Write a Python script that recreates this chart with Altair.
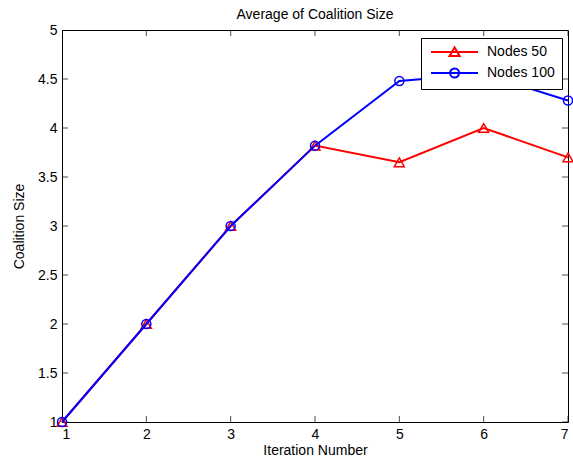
import altair as alt
import pandas as pd

iterations = [1, 2, 3, 4, 5, 6, 7]
nodes50 = [1.0, 2.0, 3.0, 3.82, 3.65, 4.0, 3.70]
nodes100 = [1.0, 2.0, 3.0, 3.82, 4.48, 4.55, 4.28]
series_names = ["Nodes 50", "Nodes 100"]
series_colors = ["#FF0000", "#0000FF"]
x_ticks = [1, 2, 3, 4, 5, 6, 7]
y_ticks = [1, 1.5, 2, 2.5, 3, 3.5, 4, 4.5, 5]

FONT = "Liberation Sans"
W, H = 506, 392

df50 = pd.DataFrame({"x": iterations, "y": nodes50, "series": series_names[0]})
df100 = pd.DataFrame({"x": iterations, "y": nodes100, "series": series_names[1]})
df_all = pd.concat([df50, df100], ignore_index=True)
dfx = pd.DataFrame({"t": x_ticks})
dfy = pd.DataFrame({"t": y_ticks})

xscale = alt.Scale(domain=[1, 7], nice=False, zero=False)
yscale = alt.Scale(domain=[1, 5], nice=False, zero=False)

axis_text = dict(labelFont=FONT, labelFontSize=14, labelColor="#000000",
                 titleFont=FONT, titleFontSize=14, titleFontWeight="normal", titleColor="#000000")
xaxis = alt.Axis(values=x_ticks, format="d", tickSize=0, domain=False, grid=False,
                 title="Iteration Number", labelPadding=5, titlePadding=2, **axis_text)
yaxis = alt.Axis(values=y_ticks, format="~g", tickSize=0, domain=False, grid=False,
                 title="Coalition Size", labelPadding=5, titlePadding=11, **axis_text)

X = alt.X("x:Q", scale=xscale, axis=xaxis)
Y = alt.Y("y:Q", scale=yscale, axis=yaxis)

red_line = alt.Chart(df50).mark_line(color=series_colors[0], strokeWidth=2).encode(x=X, y=Y)
red_pts = alt.Chart(df50).mark_point(shape="triangle-up", filled=False, color=series_colors[0],
                                     size=100, strokeWidth=1.5, opacity=1).encode(x=X, y=Y)
blue_line = alt.Chart(df100).mark_line(color=series_colors[1], strokeWidth=2).encode(x=X, y=Y)
blue_pts = alt.Chart(df100).mark_point(shape="circle", filled=False, color=series_colors[1],
                                       size=81, strokeWidth=1.5, opacity=1).encode(x=X, y=Y)

# legend symbols: a line with the marker in its middle (units scaled by sqrt(size)/2)
c = 4.9
tri = f"M-1,0H10.75M{c},-1.15L{c+1.25},1.0L{c-1.25},1.0Z"
r = 1.125
k = 0.621
circ = (f"M-1,0H10.75M{c+r},0C{c+r},{k} {c+k},{r} {c},{r}C{c-k},{r} {c-r},{k} {c-r},0"
        f"C{c-r},{-k} {c-k},{-r} {c},{-r}C{c+k},{-r} {c+r},{-k} {c+r},0Z")

legend = alt.Legend(title=None, orient="none", legendX=359, legendY=8,
                    labelFont=FONT, labelFontSize=14, labelColor="#000000",
                    symbolSize=64, symbolStrokeWidth=2, symbolOpacity=1,
                    labelOffset=45, rowPadding=4, padding=7,
                    strokeColor="#000000", fillColor="#FFFFFF", cornerRadius=0)

legend_layer = alt.Chart(df_all).mark_point(filled=False, opacity=0, size=64).encode(
    x=X, y=Y,
    color=alt.Color("series:N", scale=alt.Scale(domain=series_names, range=series_colors), legend=legend),
    shape=alt.Shape("series:N", scale=alt.Scale(domain=series_names, range=[tri, circ]), legend=legend),
)

tick_style = dict(color="#000000", thickness=1, size=12, clip=True)
bx = alt.Chart(dfx).mark_tick(orient="vertical", **tick_style).encode(x=alt.X("t:Q", scale=xscale, axis=xaxis), y=alt.datum(1))
tx = alt.Chart(dfx).mark_tick(orient="vertical", **tick_style).encode(x=alt.X("t:Q", scale=xscale, axis=xaxis), y=alt.datum(5))
ly = alt.Chart(dfy).mark_tick(orient="horizontal", **tick_style).encode(y=alt.Y("t:Q", scale=yscale, axis=yaxis), x=alt.datum(1))
ry = alt.Chart(dfy).mark_tick(orient="horizontal", **tick_style).encode(y=alt.Y("t:Q", scale=yscale, axis=yaxis), x=alt.datum(7))

chart = alt.layer(bx, tx, ly, ry, red_line, red_pts, blue_line, blue_pts, legend_layer).properties(
    width=W, height=H,
    title=alt.Title("Average of Coalition Size", font=FONT, fontSize=14, fontWeight="normal",
                    color="#000000", offset=1),
    autosize=alt.AutoSizeParams(type="none"),
    padding={"left": 62, "top": 30, "right": 5, "bottom": 41},
    background="#FFFFFF",
).configure_view(stroke="#000000", strokeWidth=1)

chart.save("out.html", embed_options={"renderer": "svg", "actions": False})
